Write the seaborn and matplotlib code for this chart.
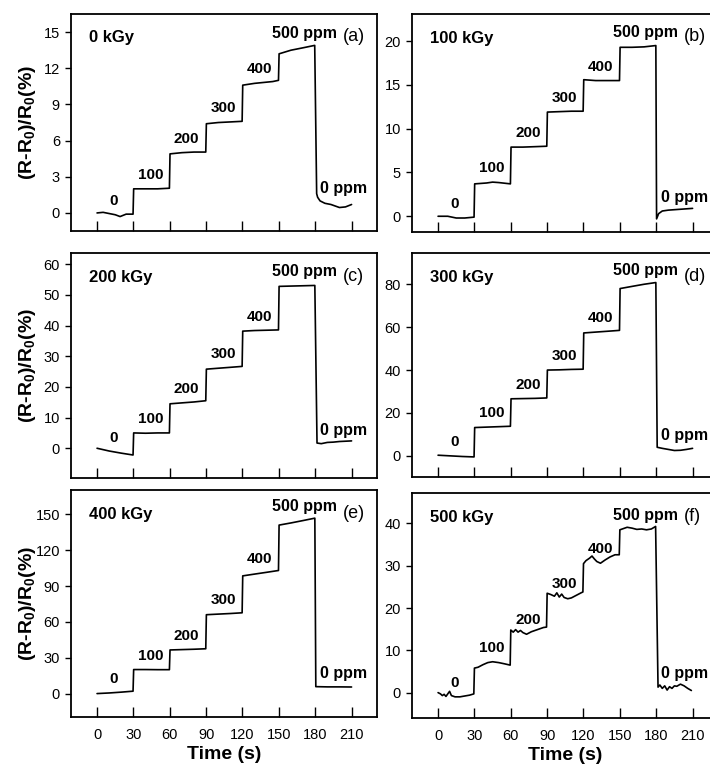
import numpy as np
import pandas as pd
import matplotlib
matplotlib.use('Agg')
import matplotlib.pyplot as plt
import seaborn as sns

# dose levels and panel tags
doses = ['0 kGy', '100 kGy', '200 kGy', '300 kGy', '400 kGy', '500 kGy']
tags = ['(a)', '(b)', '(c)', '(d)', '(e)', '(f)']
step_labels = ['0', '100', '200', '300', '400']
time_ticks = [0, 30, 60, 90, 120, 150, 180, 210]

# response curves: time (s) and (R-R0)/R0 (%)
t_0kGy = [0, 5, 10, 15, 19, 24, 29.7, 30.2, 40, 50, 59.7, 60.2, 70, 80, 89.7, 90.2, 100, 110, 119.7,
          120.2, 130, 140, 145, 149.7, 150.2, 160, 170, 179.6, 181.2, 182, 184, 188, 193, 200, 205, 210]
r_0kGy = [0.0, 0.05, -0.05, -0.15, -0.3, -0.1, -0.1, 2.0, 2.0, 2.0, 2.05, 4.9, 5.0, 5.05, 5.05, 7.4, 7.5, 7.55, 7.6,
          10.6, 10.75, 10.85, 10.9, 11.0, 13.2, 13.5, 13.7, 13.9, 1.6, 1.3, 1.0, 0.8, 0.7, 0.45, 0.5, 0.7]

t_100kGy = [0, 8, 15, 22, 29.7, 30.2, 40, 45, 50, 59.7, 60.2, 70, 80, 89.7, 90.2, 100, 110, 119.7,
            120.2, 130, 140, 149.7, 150.2, 160, 170, 179.7, 180.3, 182, 185, 190, 200, 210]
r_100kGy = [0.0, 0.0, -0.2, -0.2, -0.1, 3.7, 3.8, 3.9, 3.85, 3.7, 7.9, 7.9, 7.95, 8.0, 11.9, 11.95, 12.0, 12.0,
            15.6, 15.5, 15.5, 15.5, 19.3, 19.3, 19.35, 19.5, -0.3, 0.3, 0.6, 0.7, 0.8, 0.9]

t_200kGy = [0, 10, 20, 29.7, 30.2, 40, 50, 59.7, 60.2, 70, 80, 89.7, 90.2, 100, 110, 119.7,
            120.2, 130, 140, 149.7, 150.2, 160, 170, 179.7, 181.5, 185, 190, 195, 200, 210]
r_200kGy = [0.0, -0.9, -1.6, -2.2, 5.0, 4.9, 5.0, 5.0, 14.5, 14.8, 15.1, 15.5, 25.8, 26.1, 26.4, 26.7,
            38.2, 38.4, 38.5, 38.6, 52.8, 52.9, 53.0, 53.1, 1.7, 1.5, 1.9, 2.0, 2.2, 2.4]

t_300kGy = [0, 10, 20, 29.7, 30.2, 40, 50, 59.7, 60.2, 70, 80, 89.7, 90.2, 100, 110, 119.7,
            120.2, 130, 140, 149.7, 150.2, 160, 170, 179.7, 180.8, 185, 190, 195, 200, 205, 210]
r_300kGy = [0.3, 0.0, -0.3, -0.5, 13.2, 13.4, 13.6, 13.8, 26.6, 26.7, 26.8, 27.0, 40.0, 40.1, 40.3, 40.4,
            57.3, 57.7, 58.1, 58.5, 78.0, 79.0, 80.0, 80.8, 4.0, 3.5, 3.0, 2.5, 2.6, 3.0, 3.5]

t_400kGy = [0, 10, 20, 29.7, 30.2, 40, 50, 59.7, 60.2, 70, 80, 89.7, 90.2, 100, 110, 119.7,
            120.2, 130, 140, 149.7, 150.2, 160, 170, 179.7, 180.5, 190, 200, 210]
r_400kGy = [0.0, 0.5, 1.2, 2.0, 20.1, 20.1, 20.0, 20.0, 36.5, 36.8, 37.1, 37.5, 66.0, 66.5, 67.0, 67.6,
            98.5, 100.0, 101.5, 103.0, 141.0, 142.8, 144.8, 146.8, 5.8, 5.6, 5.6, 5.5]

t_500kGy = [0, 2, 3.5, 5, 6.5, 8, 9.5, 11, 14, 18, 22, 26, 29.5,
            30, 33, 37, 41, 45, 50, 55, 59.5,
            60, 62, 64, 66, 68, 70, 73, 77, 82, 87, 89.5,
            90, 93, 96, 98, 100, 102, 104, 107, 110, 114, 118, 119.5,
            120, 122, 125, 127, 129, 131, 134, 138, 142, 146, 149.5,
            150, 153, 156, 160, 164, 168, 172, 176, 179.5,
            181.5, 183, 185, 187, 189, 191, 193, 195, 197, 200, 203, 206, 209]
r_500kGy = [0.0, -0.3, -0.7, -0.4, -0.9, -0.3, 0.3, -0.7, -1.0, -1.0, -0.8, -0.6, -0.3,
            5.8, 6.0, 6.6, 7.1, 7.3, 7.1, 6.8, 6.5,
            14.8, 14.3, 14.9, 14.3, 14.7, 14.2, 13.8, 14.4, 14.9, 15.4, 15.5,
            23.5, 23.2, 22.8, 23.6, 22.6, 23.3, 22.5, 22.2, 22.4, 23.0, 23.6, 23.8,
            30.5, 31.2, 31.8, 32.3, 31.6, 31.0, 30.6, 31.4, 32.1, 32.6, 32.6,
            38.5, 38.8, 39.1, 38.9, 38.6, 38.7, 38.5, 38.7, 39.3,
            1.3, 1.8, 1.0, 1.6, 0.6, 1.4, 1.0, 1.6, 1.5, 2.0, 1.6, 1.0, 0.5]

times = [t_0kGy, t_100kGy, t_200kGy, t_300kGy, t_400kGy, t_500kGy]
responses = [r_0kGy, r_100kGy, r_200kGy, r_300kGy, r_400kGy, r_500kGy]

# axis ranges and y ticks per panel
y_limits = [(-1.5, 16.5), (-1.8, 23.1), (-9.7, 63.7), (-10, 94.7), (-19.6, 170.4), (-6, 47.2)]
y_ticks = [np.arange(0, 16, 3), np.arange(0, 21, 5), np.arange(0, 61, 10),
           np.arange(0, 81, 20), np.arange(0, 151, 30), np.arange(0, 41, 10)]

sns.set_theme(style='ticks')
plt.rcParams['font.family'] = ['Liberation Sans', 'DejaVu Sans']
plt.rcParams['mathtext.fontset'] = 'custom'
plt.rcParams['mathtext.rm'] = 'Liberation Sans'
plt.rcParams['mathtext.bf'] = 'Liberation Sans:bold'
plt.rcParams['text.color'] = 'black'
plt.rcParams['axes.labelcolor'] = 'black'

fig = plt.figure(figsize=(7.1, 7.67), dpi=100)

# panel rectangles in figure fraction (right column runs past the edge, as in the crop)
rects = [
    [0.100, 0.6988, 0.431, 0.2829], [0.5803, 0.6975, 0.431, 0.2842],
    [0.100, 0.3768, 0.431, 0.2934], [0.5803, 0.3777, 0.431, 0.2928],
    [0.100, 0.0652, 0.431, 0.2960], [0.5803, 0.0639, 0.431, 0.2933],
]

for i in range(6):
    ax = fig.add_axes(rects[i])
    df = pd.DataFrame({'time': times[i], 'resp': responses[i]})
    sns.lineplot(data=df, x='time', y='resp', ax=ax, color='black', lw=1.2,
                 estimator=None, sort=False)

    ax.set_xlim(-21.5, 231)
    ax.set_ylim(*y_limits[i])
    ax.set_xticks(time_ticks)
    ax.set_yticks(y_ticks[i])
    ax.tick_params(axis='x', direction='in', length=7, width=1, pad=8, labelsize=10.5, colors='black')
    ax.tick_params(axis='y', direction='out', length=4.5, width=1, labelsize=10.5, colors='black')
    for sp in ax.spines.values():
        sp.set_linewidth(1.3)
        sp.set_color('black')
        sp.set_visible(True)

    if i < 4:
        ax.tick_params(axis='x', labelbottom=False)
        ax.set_xlabel('')
    else:
        ax.set_xlabel('Time (s)', fontsize=14, fontweight='bold', labelpad=2.5)

    if i % 2 == 0:
        ax.set_ylabel(r'(R-R$_\mathbf{0}$)/R$_\mathbf{0}$(%)', fontsize=14, fontweight='bold')
        ax.yaxis.set_label_coords(-0.108, 0.5)
    else:
        ax.set_ylabel('')

    t = np.array(times[i])
    r = np.array(responses[i])

    # concentration labels above each step
    for k, lab in enumerate(step_labels):
        xs = 30 * k + 14
        ax.annotate(lab, xy=(xs, np.interp(xs, t, r)), xytext=(0, 10), textcoords='offset points',
                    ha='center', va='center', fontsize=11, fontweight='bold')
    ax.annotate('500 ppm', xy=(171, np.interp(171, t, r)), xytext=(0, 10), textcoords='offset points',
                ha='center', va='center', fontsize=11.5, fontweight='bold')
    ax.annotate('0 ppm', xy=(184, np.interp(186, t, r)), xytext=(0, 9.5), textcoords='offset points',
                ha='left', va='center', fontsize=11.5, fontweight='bold')

    ax.text(0.06, 0.89, doses[i], transform=ax.transAxes, ha='left', va='center',
            fontsize=12, fontweight='bold')
    ax.text(0.89, 0.895, tags[i], transform=ax.transAxes, ha='left', va='center', fontsize=13)

fig.savefig('out.png', dpi=100)
